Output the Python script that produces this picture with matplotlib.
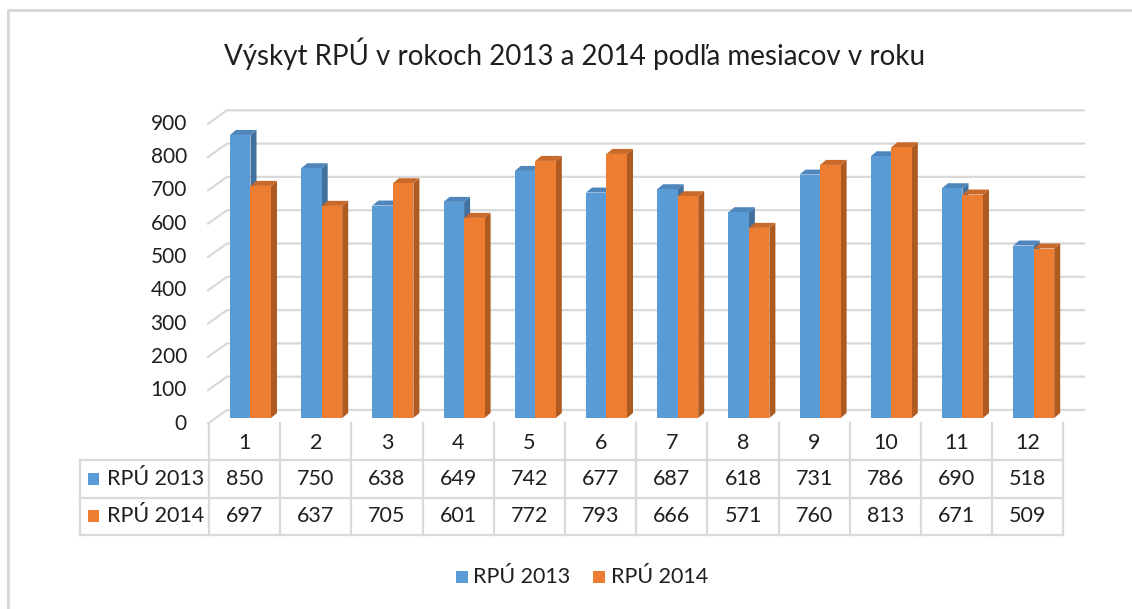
import matplotlib
matplotlib.use("Agg")
import matplotlib.pyplot as plt
from matplotlib.patches import Polygon, Rectangle

# -- data
months = ["1", "2", "3", "4", "5", "6", "7", "8", "9", "10", "11", "12"]
rpu_2013 = [850, 750, 638, 649, 742, 677, 687, 618, 731, 786, 690, 518]
rpu_2014 = [697, 637, 705, 601, 772, 793, 666, 571, 760, 813, 671, 509]
series_names = ["RPÚ 2013", "RPÚ 2014"]
y_ticks = [0, 100, 200, 300, 400, 500, 600, 700, 800, 900]
title = "Výskyt RPÚ v rokoch 2013 a 2014 podľa mesiacov v roku"

plt.rcParams['font.family'] = ['Lato', 'DejaVu Sans']
TXT = "#1F1F1F"
GRID = "#D9D9D9"
faces = [("#5B9BD5", "#41719C", "#4F86BC"), ("#ED7D31", "#AE5A21", "#C9692A")]

# pixel layout helpers (category column width, bar baseline, px per unit)
X0, CW, Y0, S = 209, 71.2, 418, 0.333

def px_x(p):
    return (p - X0) / CW

def px_y(p):
    return (Y0 - p) / S

fig = plt.figure(figsize=(11.32, 6.09), dpi=100)
ax = fig.add_axes([0, 0, 1, 1])
ax.axis('off')
ax.set_xlim(px_x(0), px_x(1132))
ax.set_ylim(px_y(609), px_y(0))

# chart border (only top/left inside the picture)
ax.plot([px_x(8), px_x(8), px_x(1140)], [px_y(620), px_y(10), px_y(10)], color=GRID, lw=2.2, solid_capstyle='butt')

ax.text(px_x(575), px_y(54), title, ha='center', va='center', fontsize=20, color=TXT)

# back wall gridlines + y tick labels
front_dy, back_dy = -5.5 / S, 8 / S
for v in y_ticks:
    ax.plot([px_x(208), px_x(227), px_x(1084)], [v + front_dy, v + back_dy, v + back_dy],
            color=GRID, lw=1.6, zorder=1)
    ax.text(px_x(187), v + front_dy, str(v), ha='right', va='center', fontsize=15, color=TXT)

# 3d-ish bars
off = [21 / CW, 41.5 / CW]
w = 20.5 / CW
ddx, ddy = 6 / CW, 5 / S
for i in range(len(months)):
    for j, vals in enumerate([rpu_2013, rpu_2014]):
        front, side, top = faces[j]
        xl = i + off[j]
        val = vals[i]
        z = 3 + j
        ax.add_patch(Polygon([(xl + w, 0), (xl + w + ddx, ddy), (xl + w + ddx, val + ddy), (xl + w, val)],
                             closed=True, facecolor=side, edgecolor='none', zorder=z))
        ax.add_patch(Polygon([(xl, val), (xl + ddx, val + ddy), (xl + w + ddx, val + ddy), (xl + w, val)],
                             closed=True, facecolor=top, edgecolor='none', zorder=z))
        ax.bar(xl, val, width=w, align='edge', color=front, zorder=z)

# data table
tl = dict(color=GRID, lw=1.6, zorder=2, solid_capstyle='projecting')
for k in range(len(months) + 1):
    ax.plot([k, k], [px_y(423), px_y(535)], **tl)
for yy in [460, 498, 535]:
    ax.plot([px_x(80), len(months)], [px_y(yy), px_y(yy)], **tl)
ax.plot([px_x(80), px_x(80)], [px_y(460), px_y(535)], **tl)

fs = 15.5
for k, m in enumerate(months):
    ax.text(k + 0.5, px_y(443), m, ha='center', va='center', fontsize=fs, color=TXT)
for j, (vals, yy) in enumerate(zip([rpu_2013, rpu_2014], [479, 516])):
    ax.add_patch(Rectangle((px_x(88), px_y(yy + 6)), 11 / CW, 12 / S, facecolor=faces[j][0], edgecolor='none'))
    ax.text(px_x(107), px_y(yy), series_names[j], ha='left', va='center', fontsize=fs, color=TXT)
    for k, v in enumerate(vals):
        ax.text(k + 0.5, px_y(yy), str(v), ha='center', va='center', fontsize=fs, color=TXT)

# legend
for j, (sx, tx) in enumerate([(456, 473), (593, 611)]):
    ax.add_patch(Rectangle((px_x(sx), px_y(583)), 12 / CW, 12 / S, facecolor=faces[j][0], edgecolor='none'))
    ax.text(px_x(tx), px_y(577), series_names[j], ha='left', va='center', fontsize=fs, color=TXT)

fig.savefig("out.png", dpi=100)
